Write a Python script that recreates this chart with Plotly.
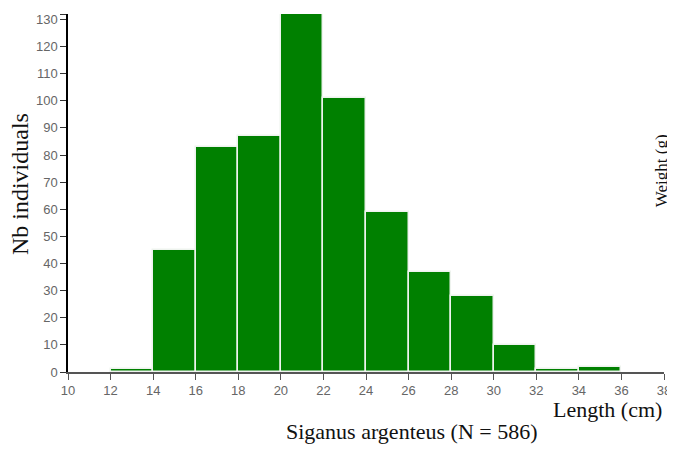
import plotly.graph_objects as go

bin_starts = [12, 14, 16, 18, 20, 22, 24, 26, 28, 30, 32, 34]
bin_width = 2
counts = [1, 45, 83, 87, 132, 101, 59, 37, 28, 10, 1, 2]
x_ticks = list(range(10, 39, 2))
y_ticks = list(range(0, 131, 10))
title_text = "Siganus argenteus (N = 586)"
x_label = "Length (cm)"
y_label = "Nb individuals"
y2_label = "Weight (g)"

centers = [s + bin_width / 2 for s in bin_starts]

fig = go.Figure()
fig.add_trace(go.Bar(
    x=centers, y=counts, width=[bin_width] * len(counts),
    marker=dict(color="#008000", line=dict(color="#eef3ee", width=1.5)),
    hoverinfo="x+y", showlegend=False,
))

tick_font = dict(family="Arial, Liberation Sans, sans-serif", size=13, color="#666666")
# The page body has an 8px margin; the figure is sized/offset so that the
# plot area lands at the reference pixel positions.
fig.update_layout(
    width=667, height=442,
    margin=dict(l=60, r=10, t=4, b=78),
    plot_bgcolor="white", paper_bgcolor="white",
    bargap=0,
    xaxis=dict(range=[10, 38], tickvals=x_ticks, ticks="outside", ticklen=6,
               tickcolor="#555555", linecolor="#555555", linewidth=1.5,
               showline=True, showgrid=False, zeroline=False, tickfont=tick_font),
    yaxis=dict(range=[0, 132], tickvals=y_ticks + [132],
               ticktext=[str(v) for v in y_ticks] + [""],
               ticks="outside", ticklen=6, tickcolor="#333333",
               linecolor="black", linewidth=1.5, showline=True,
               showgrid=False, zeroline=False, tickfont=tick_font),
)

serif = "Liberation Serif, Times New Roman, serif"
fig.add_annotation(text=y_label, xref="paper", yref="paper", x=0, y=0.525,
                   xanchor="center", yanchor="middle", textangle=-90, xshift=-48,
                   showarrow=False, font=dict(family=serif, size=24, color="#111111"))
fig.add_annotation(text=x_label, xref="paper", yref="paper", x=1.0, y=0,
                   xanchor="right", yanchor="top", yshift=-23,
                   showarrow=False, font=dict(family=serif, size=22, color="#111111"))
fig.add_annotation(text=title_text, xref="paper", yref="paper", x=0.578, y=0,
                   xanchor="center", yanchor="top", yshift=-45,
                   showarrow=False, font=dict(family=serif, size=22, color="#111111"))
fig.add_annotation(text=y2_label, xref="paper", yref="paper", x=1.0, y=0.561,
                   xanchor="center", yanchor="middle", textangle=-90, xshift=-3,
                   showarrow=False, font=dict(family=serif, size=17, color="#111111"))

fig.write_html("out.html", config={"displayModeBar": False})
